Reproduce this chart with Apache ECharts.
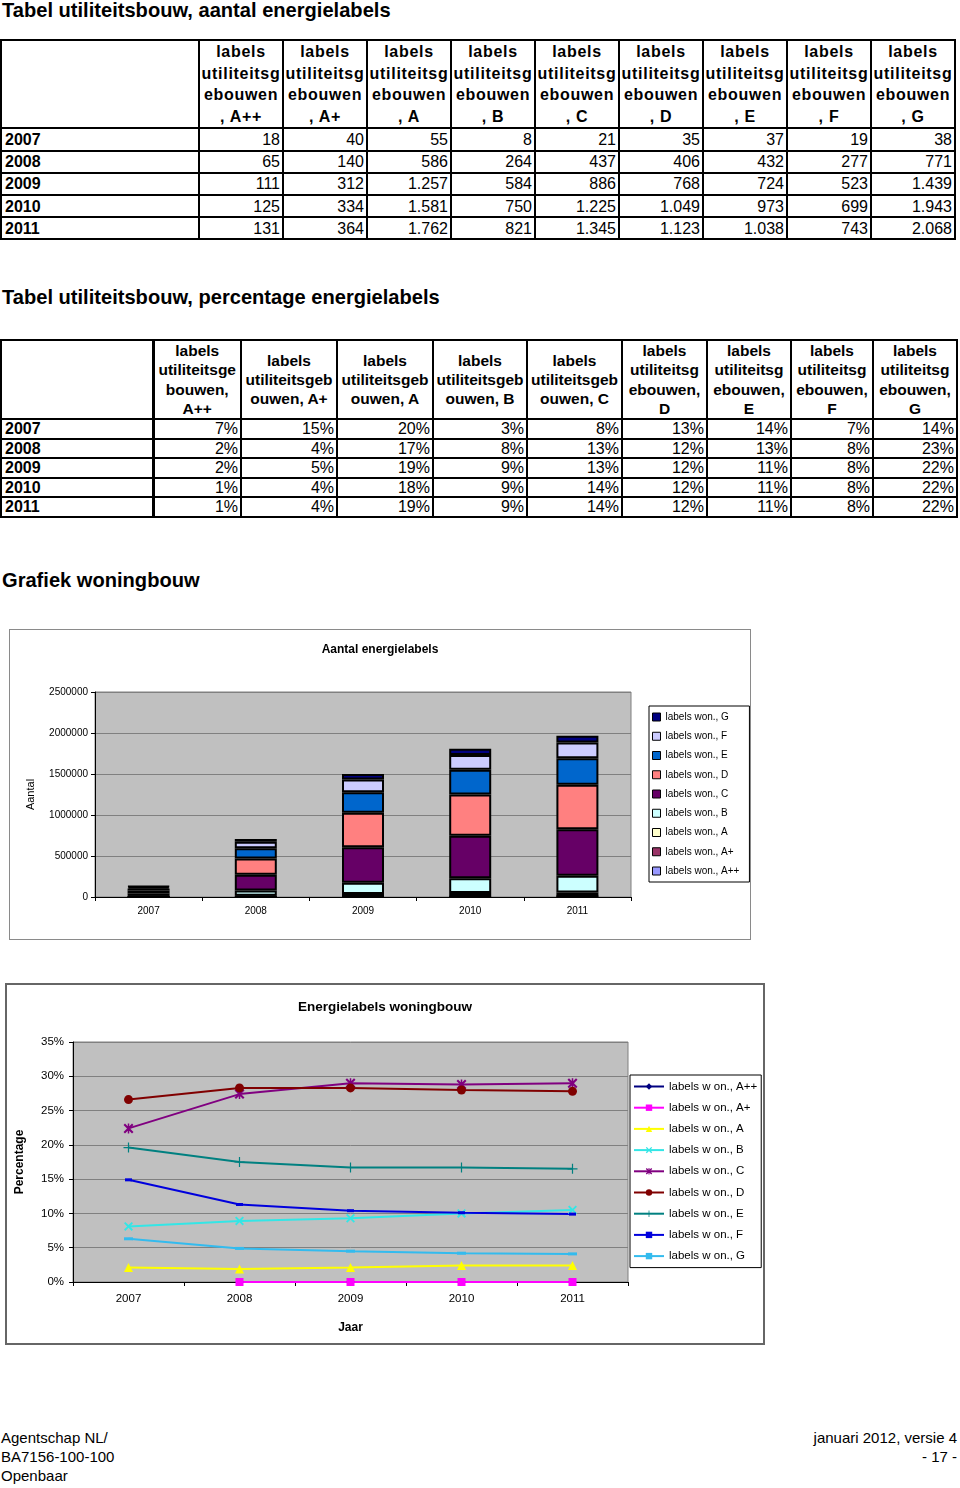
<!DOCTYPE html>
<html><head><meta charset="utf-8">
<script src="https://cdn.jsdelivr.net/npm/echarts@6/dist/echarts.min.js"></script>
<style>
html,body{margin:0;padding:0;background:#fff;}
body{width:960px;height:1488px;position:relative;font-family:"Liberation Sans",Arial,sans-serif;color:#000;overflow:hidden;}
.h{position:absolute;left:2px;font-weight:bold;font-size:20.1px;line-height:20px;white-space:nowrap;}
table{position:absolute;border-collapse:collapse;table-layout:fixed;}
td{border:2px solid #000;padding:0;overflow:hidden;white-space:nowrap;font-size:16px;line-height:17px;}
td.hd{font-weight:bold;text-align:center;vertical-align:middle;white-space:pre-line;}
td.yr{font-weight:bold;text-align:left;padding-left:3px;}
td.num{text-align:right;padding-right:2px;}
#t1 td.hd{letter-spacing:0.7px;line-height:21.6px;}
#t2 td.hd{letter-spacing:0px;line-height:19.3px;font-size:15.5px;}
#t2 td{line-height:15px;}
#t2 td.first{border-right-width:3px;}
.foot{position:absolute;font-size:15px;line-height:19px;white-space:pre;}
.wrap{position:absolute;box-sizing:border-box;background:#fff;}
</style></head>
<body>
<div class="h" style="top:0px">Tabel utiliteitsbouw, aantal energielabels</div>
<table id="t1" style="left:0;top:39px;width:954px"></table>
<div class="h" style="top:287px">Tabel utiliteitsbouw, percentage energielabels</div>
<table id="t2" style="left:0;top:339px;width:956px"></table>
<div class="h" style="top:570px">Grafiek woningbouw</div>
<div class="wrap" style="left:9px;top:629px;width:742px;height:311px;border:1px solid #8a8a8a">
  <div id="c1" style="width:740px;height:309px"></div>
</div>
<div class="wrap" style="left:5px;top:983px;width:760px;height:362px;border:2px solid #666">
  <div id="c2" style="width:756px;height:358px"></div>
</div>
<div class="foot" style="left:1px;top:1428px">Agentschap NL/
BA7156-100-100
Openbaar</div>
<div class="foot" style="right:3px;top:1428px;text-align:right">januari 2012, versie 4
- 17 -</div>
<script>
// ---------- table data ----------
const years = ['2007', '2008', '2009', '2010', '2011'];
const t1Header = [
  'labels\nutiliteitsg\nebouwen\n, A++', 'labels\nutiliteitsg\nebouwen\n, A+', 'labels\nutiliteitsg\nebouwen\n, A',
  'labels\nutiliteitsg\nebouwen\n, B', 'labels\nutiliteitsg\nebouwen\n, C', 'labels\nutiliteitsg\nebouwen\n, D',
  'labels\nutiliteitsg\nebouwen\n, E', 'labels\nutiliteitsg\nebouwen\n, F', 'labels\nutiliteitsg\nebouwen\n, G'];
const aantal2007 = ['18', '40', '55', '8', '21', '35', '37', '19', '38'];
const aantal2008 = ['65', '140', '586', '264', '437', '406', '432', '277', '771'];
const aantal2009 = ['111', '312', '1.257', '584', '886', '768', '724', '523', '1.439'];
const aantal2010 = ['125', '334', '1.581', '750', '1.225', '1.049', '973', '699', '1.943'];
const aantal2011 = ['131', '364', '1.762', '821', '1.345', '1.123', '1.038', '743', '2.068'];
const t2Header = [
  'labels\nutiliteitsge\nbouwen,\nA++', 'labels\nutiliteitsgeb\nouwen, A+', 'labels\nutiliteitsgeb\nouwen, A',
  'labels\nutiliteitsgeb\nouwen, B', 'labels\nutiliteitsgeb\nouwen, C', 'labels\nutiliteitsg\nebouwen,\nD',
  'labels\nutiliteitsg\nebouwen,\nE', 'labels\nutiliteitsg\nebouwen,\nF', 'labels\nutiliteitsg\nebouwen,\nG'];
const pct2007 = ['7%', '15%', '20%', '3%', '8%', '13%', '14%', '7%', '14%'];
const pct2008 = ['2%', '4%', '17%', '8%', '13%', '12%', '13%', '8%', '23%'];
const pct2009 = ['2%', '5%', '19%', '9%', '13%', '12%', '11%', '8%', '22%'];
const pct2010 = ['1%', '4%', '18%', '9%', '14%', '12%', '11%', '8%', '22%'];
const pct2011 = ['1%', '4%', '19%', '9%', '14%', '12%', '11%', '8%', '22%'];

// ---------- chart data ----------
const chartYears = ['2007', '2008', '2009', '2010', '2011'];
// Aantal energielabels woningbouw (stacked bars)
const wonAantalAPP = [500, 1500, 2500, 3000, 3500];
const wonAantalAP  = [300, 1000, 2000, 2500, 3000];
const wonAantalA   = [3000, 13000, 31000, 43000, 47000];
const wonAantalB   = [11000, 63000, 139000, 180000, 205000];
const wonAantalC   = [29000, 193000, 432000, 518000, 567000];
const wonAantalD   = [35000, 199000, 422000, 504000, 543000];
const wonAantalE   = [25000, 123000, 249000, 300000, 323000];
const wonAantalF   = [19000, 79000, 155000, 182000, 194000];
const wonAantalG   = [8000, 34000, 67000, 76000, 80000];
// Percentage energielabels woningbouw (lines, in %)
const wonPctAPP = [null, 0, 0, 0, 0];
const wonPctAP  = [null, 0, 0, 0, 0];
const wonPctA   = [2.1, 1.9, 2.1, 2.4, 2.4];
const wonPctB   = [8.1, 8.9, 9.3, 10.0, 10.5];
const wonPctC   = [22.4, 27.4, 29.0, 28.8, 29.0];
const wonPctD   = [26.6, 28.3, 28.3, 28.0, 27.8];
const wonPctE   = [19.6, 17.5, 16.7, 16.7, 16.5];
const wonPctF   = [14.9, 11.3, 10.4, 10.1, 9.9];
const wonPctG   = [6.3, 4.9, 4.5, 4.2, 4.1];

// ---------- build tables ----------
function buildTable(id, widths, header, rows, hdH, rowH, firstCls) {
  const t = document.getElementById(id);
  let html = '<colgroup>' + widths.map(w => '<col style="width:' + w + 'px">').join('') + '</colgroup>';
  html += '<tr style="height:' + hdH + 'px"><td class="' + firstCls + '"></td>' +
    header.map(h => '<td class="hd">' + h + '</td>').join('') + '</tr>';
  rows.forEach(r => {
    html += '<tr style="height:' + rowH + 'px"><td class="yr ' + firstCls + '">' + r[0] + '</td>' +
      r[1].map(v => '<td class="num">' + v + '</td>').join('') + '</tr>';
  });
  t.innerHTML = html;
}
buildTable('t1', [198, 84, 84, 84, 84, 84, 84, 84, 84, 84], t1Header,
  [[years[0], aantal2007], [years[1], aantal2008], [years[2], aantal2009], [years[3], aantal2010], [years[4], aantal2011]],
  86, 22.2, '');
buildTable('t2', [152, 88, 96, 96, 94, 95, 85, 84, 82, 84], t2Header,
  [[years[0], pct2007], [years[1], pct2008], [years[2], pct2009], [years[3], pct2010], [years[4], pct2011]],
  78, 19.5, 'first');

// ---------- chart 1 ----------
const FONT = '"Liberation Sans", Arial, sans-serif';
const barNames = ['labels won., A++', 'labels won., A+', 'labels won., A', 'labels won., B', 'labels won., C',
  'labels won., D', 'labels won., E', 'labels won., F', 'labels won., G'];
const barColors = ['#9999FF', '#993366', '#FFFFCC', '#CCFFFF', '#660066', '#FF8080', '#0066CC', '#CCCCFF', '#000080'];
const barData = [wonAantalAPP, wonAantalAP, wonAantalA, wonAantalB, wonAantalC, wonAantalD, wonAantalE, wonAantalF, wonAantalG];

const c1 = echarts.init(document.getElementById('c1'), null, { renderer: 'canvas' });
c1.setOption({
  animation: false,
  textStyle: { fontFamily: FONT, color: '#000' },
  title: {
    text: 'Aantal energielabels', left: 365, top: 9, textAlign: 'center',
    textStyle: { fontSize: 12, fontWeight: 'bold', color: '#000', fontFamily: FONT }
  },
  grid: {
    left: 85, top: 62, width: 536, height: 205, containLabel: false, outerBoundsMode: 'none',
    show: true, backgroundColor: '#C0C0C0', borderColor: '#808080', borderWidth: 1
  },
  legend: {
    orient: 'vertical', left: 639, top: 76, padding: [5, 10, 5, 3],
    borderColor: '#000', borderWidth: 1, backgroundColor: '#fff',
    itemWidth: 8, itemHeight: 8, itemGap: 7.25, icon: 'rect',
    itemStyle: { borderWidth: 1, borderColor: '#000' },
    textStyle: { fontSize: 10, lineHeight: 12, color: '#000', fontFamily: FONT },
    data: barNames.slice().reverse()
  },
  xAxis: {
    type: 'category', data: chartYears, boundaryGap: true,
    axisLine: { show: true, lineStyle: { color: '#000', width: 1 } },
    axisTick: { show: true, alignWithLabel: false, length: 4, lineStyle: { color: '#000' } },
    axisLabel: { fontSize: 10, color: '#000', margin: 9, fontFamily: FONT },
    splitLine: { show: false }
  },
  yAxis: {
    type: 'value', min: 0, max: 2500000, interval: 500000,
    name: 'Aantal', nameLocation: 'middle', nameGap: 59, nameRotate: 90,
    nameTextStyle: { fontSize: 11, color: '#000', fontFamily: FONT },
    axisLine: { show: true, lineStyle: { color: '#000', width: 1 } },
    axisTick: { show: true, length: 4, lineStyle: { color: '#000' } },
    axisLabel: { fontSize: 10, color: '#000', margin: 7, fontFamily: FONT, formatter: v => String(v) },
    splitLine: { show: true, lineStyle: { color: '#808080', width: 1 } }
  },
  series: barNames.map((n, i) => ({
    name: n, type: 'bar', stack: 'total', barWidth: 42, data: barData[i],
    itemStyle: { color: barColors[i], borderColor: '#000', borderWidth: 2 },
    emphasis: { disabled: true }
  }))
});

// ---------- chart 2 ----------
const lineNames = ['labels w on., A++', 'labels w on., A+', 'labels w on., A', 'labels w on., B', 'labels w on., C',
  'labels w on., D', 'labels w on., E', 'labels w on., F', 'labels w on., G'];
const lineColors = ['#000080', '#FF00FF', '#FFFF00', '#33E6E6', '#800080', '#800000', '#008080', '#0000DD', '#33BBEE'];
const lineData = [wonPctAPP, wonPctAP, wonPctA, wonPctB, wonPctC, wonPctD, wonPctE, wonPctF, wonPctG];
const XSYM = 'path://M0,1.5L1.5,0L5,3.5L8.5,0L10,1.5L6.5,5L10,8.5L8.5,10L5,6.5L1.5,10L0,8.5L3.5,5Z';
const STARSYM = 'path://M0,1.5L1.5,0L5,3.5L8.5,0L10,1.5L6.5,5L10,8.5L8.5,10L5,6.5L1.5,10L0,8.5L3.5,5Z M4.25,0H5.75V10H4.25Z';
const PLUSSYM = 'path://M4.4,0H5.6V4.4H10V5.6H5.6V10H4.4V5.6H0V4.4H4.4Z';
const lineSymbols = ['diamond', 'rect', 'triangle', XSYM, STARSYM, 'circle', PLUSSYM, 'rect', 'rect'];
const lineSymbolSizes = [8, 8, 9, 9, 10, 9, 10, [7, 3], [9, 3]];

const c2 = echarts.init(document.getElementById('c2'), null, { renderer: 'canvas' });
c2.setOption({
  animation: false,
  textStyle: { fontFamily: FONT, color: '#000' },
  title: {
    text: 'Energielabels woningbouw', left: 373, top: 10, textAlign: 'center',
    textStyle: { fontSize: 13.5, fontWeight: 'bold', color: '#000', fontFamily: FONT }
  },
  grid: {
    left: 66, top: 57, width: 555, height: 240, containLabel: false, outerBoundsMode: 'none',
    show: true, backgroundColor: '#C0C0C0', borderColor: '#808080', borderWidth: 1
  },
  legend: {
    orient: 'vertical', left: 623, top: 90, padding: [5, 4, 5, 3],
    borderColor: '#000', borderWidth: 1, backgroundColor: '#fff',
    itemWidth: 30, itemHeight: 8, itemGap: 8.2,
    textStyle: { fontSize: 11.5, lineHeight: 13, color: '#000', fontFamily: FONT },
    data: lineNames
  },
  xAxis: {
    type: 'category', data: chartYears, boundaryGap: true,
    name: 'Jaar', nameLocation: 'middle', nameGap: 40,
    nameTextStyle: { fontSize: 12, fontWeight: 'bold', color: '#000', fontFamily: FONT },
    axisLine: { show: true, lineStyle: { color: '#000', width: 1 } },
    axisTick: { show: true, alignWithLabel: false, length: 4, lineStyle: { color: '#000' } },
    axisLabel: { fontSize: 11.5, color: '#000', margin: 11, fontFamily: FONT },
    splitLine: { show: false }
  },
  yAxis: {
    type: 'value', min: 0, max: 35, interval: 5,
    name: 'Percentage', nameLocation: 'middle', nameGap: 47, nameRotate: 90,
    nameTextStyle: { fontSize: 12, fontWeight: 'bold', color: '#000', fontFamily: FONT },
    axisLine: { show: true, lineStyle: { color: '#000', width: 1 } },
    axisTick: { show: true, length: 4, lineStyle: { color: '#000' } },
    axisLabel: { fontSize: 11.5, color: '#000', margin: 9, formatter: '{value}%', fontFamily: FONT },
    splitLine: { show: true, lineStyle: { color: '#808080', width: 1 } }
  },
  series: lineNames.map((n, i) => ({
    name: n, type: 'line', data: lineData[i],
    symbol: lineSymbols[i], symbolSize: lineSymbolSizes[i], showAllSymbol: true,
    lineStyle: { color: lineColors[i], width: 2 },
    itemStyle: { color: lineColors[i], borderWidth: 0 },
    emphasis: { disabled: true }
  }))
});
</script>
</body></html>
